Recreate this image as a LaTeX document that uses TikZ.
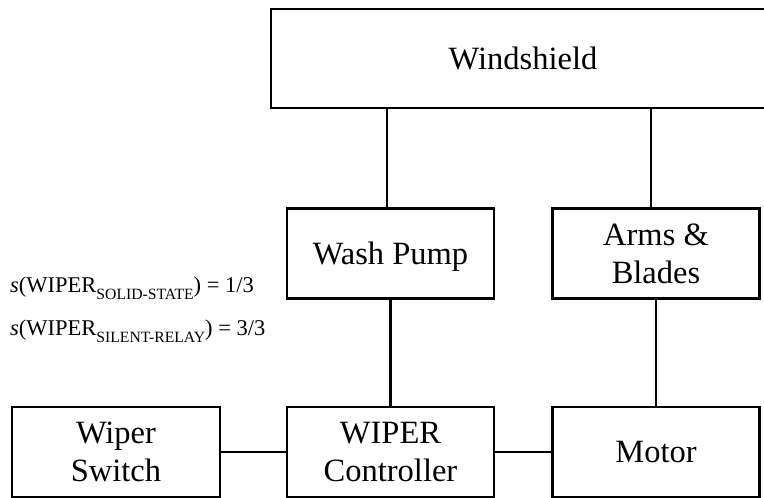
\documentclass[tikz,border=0pt]{standalone}
\usepackage{fontspec}
\setmainfont{Liberation Serif}
\newcommand{\mysub}[1]{\raisebox{-7pt}{\fontsize{15.7}{18}\selectfont #1}}
\begin{document}
\begin{tikzpicture}[x=1pt,y=-1pt,
  box/.style={draw,line width=2.6pt,minimum width=#1,minimum height=90pt,inner sep=0pt,align=center,font=\fontsize{32.5}{38}\selectfont},
  box/.default=207pt,
  link/.style={line width=2.6pt},
  lbl/.style={anchor=base west,inner sep=0pt,font=\fontsize{22.5}{27}\selectfont}]
\useasboundingbox (0,0) rectangle (764,498);
\clip (0,0) rectangle (764,498);
\node[box=504pt,minimum height=99pt] (ws) at (523,58.5) {Windshield};
\node[box,text depth=0pt] (wp) at (390.5,253.5) {Wash Pump};
\node[box] (ab) at (656,253.5) {Arms \&\\Blades};
\node[box=208pt] (sw) at (116,452) {Wiper\\Switch};
\node[box] (ct) at (390.5,452) {WIPER\\Controller};
\node[box] (mo) at (656,452) {Motor};
\draw[link] (sw) -- (ct);
\draw[link] (ct) -- (mo);
\draw[link] ([xshift=-3.5pt]wp.north) -- ([xshift=-3.5pt]wp.north |- ws.south);
\draw[link] (wp.south) -- (ct.north);
\draw[link] ([xshift=-5pt]ab.north) -- ([xshift=-5pt]ab.north |- ws.south);
\draw[link] (ab.south) -- (mo.north);
\node[lbl] (l1) at (10,292) {\textit{s}(WIPER\mysub{SOLID-STATE}) = 1/3};
\node[lbl] (l2) at (10,335) {\textit{s}(WIPER\mysub{SILENT-RELAY}) = 3/3};
\end{tikzpicture}
\end{document}
